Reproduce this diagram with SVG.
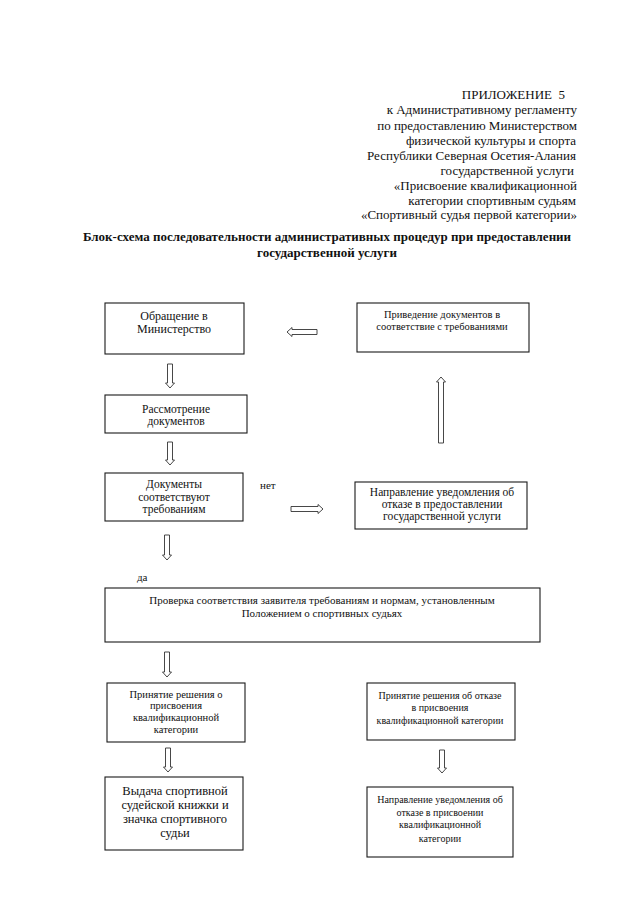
<svg xmlns="http://www.w3.org/2000/svg" width="640" height="905" viewBox="0 0 640 905">
<style>
  text { font-family: "Liberation Serif", "Times New Roman", serif; fill: #111; }
  .hdr { font-size: 13px; text-anchor: end; }
  .ttl { font-size: 13px; font-weight: bold; text-anchor: middle; }
  .box { fill: #fff; stroke: #1a1a1a; stroke-width: 1.1; }
  .t { text-anchor: middle; }
  .arr { fill: #fff; stroke: #333; stroke-width: 0.9; }
  .lbl { font-size: 11px; }
</style>
<rect width="640" height="905" fill="#fff"/>

<g id="header">
  <text class="hdr" x="565" y="99" xml:space="preserve">ПРИЛОЖЕНИЕ  5</text>
  <text class="hdr" x="577" y="114">к Административному регламенту</text>
  <text class="hdr" x="577" y="130">по предоставлению Министерством</text>
  <text class="hdr" x="576" y="145">физической культуры и спорта</text>
  <text class="hdr" x="576" y="160">Республики Северная Осетия-Алания</text>
  <text class="hdr" x="574" y="175">государственной услуги</text>
  <text class="hdr" x="577" y="190">«Присвоение квалификационной</text>
  <text class="hdr" x="576" y="205">категории спортивным судьям</text>
  <text class="hdr" x="577" y="219">«Спортивный судья первой категории»</text>
</g>

<g id="title">
  <text class="ttl" x="327" y="241">Блок-схема последовательности административных процедур при предоставлении</text>
  <text class="ttl" x="327" y="257">государственной услуги</text>
</g>

<g id="n1">
  <rect class="box" x="105" y="303" width="139" height="51"/>
  <text class="t" x="174" y="320" font-size="12">Обращение в</text>
  <text class="t" x="174" y="333" font-size="12">Министерство</text>
</g>
<g id="n2">
  <rect class="box" x="357" y="303" width="172" height="49"/>
  <text class="t" x="442" y="318" font-size="10.5">Приведение документов в</text>
  <text class="t" x="442" y="330" font-size="10.5">соответствие с требованиями</text>
</g>
<g id="n3">
  <rect class="box" x="105" y="395" width="142" height="38"/>
  <text class="t" x="176" y="413" font-size="11.5">Рассмотрение</text>
  <text class="t" x="176" y="425" font-size="11.5">документов</text>
</g>
<g id="n4">
  <rect class="box" x="105" y="473" width="138" height="48"/>
  <text class="t" x="174" y="488" font-size="11.5">Документы</text>
  <text class="t" x="174" y="501" font-size="11.5">соответствуют</text>
  <text class="t" x="174" y="513" font-size="11.5">требованиям</text>
</g>
<g id="n5">
  <rect class="box" x="355" y="482" width="172" height="47"/>
  <text class="t" x="442" y="496" font-size="11.5">Направление уведомления об</text>
  <text class="t" x="442" y="508" font-size="11.5">отказе в предоставлении</text>
  <text class="t" x="442" y="520" font-size="11.5">государственной услуги</text>
</g>
<g id="n6">
  <rect class="box" x="105" y="588" width="435" height="54"/>
  <text class="t" x="322" y="604" font-size="11">Проверка соответствия заявителя требованиям и нормам, установленным</text>
  <text class="t" x="322" y="617" font-size="11">Положением о спортивных судьях</text>
</g>
<g id="n7">
  <rect class="box" x="107" y="683" width="138" height="59"/>
  <text class="t" x="176" y="698" font-size="10.5">Принятие решения о</text>
  <text class="t" x="176" y="709" font-size="10.5">присвоения</text>
  <text class="t" x="176" y="721" font-size="10.5">квалификационной</text>
  <text class="t" x="176" y="733" font-size="10.5">категории</text>
</g>
<g id="n8">
  <rect class="box" x="105" y="777" width="138" height="73"/>
  <text class="t" x="175" y="795" font-size="12.5">Выдача спортивной</text>
  <text class="t" x="175" y="809" font-size="12.5">судейской книжки и</text>
  <text class="t" x="175" y="823" font-size="12.5">значка спортивного</text>
  <text class="t" x="175" y="837" font-size="12.5">судьи</text>
</g>
<g id="n9">
  <rect class="box" x="367" y="683" width="148" height="57"/>
  <text class="t" x="440" y="699" font-size="10">Принятие решения об отказе</text>
  <text class="t" x="440" y="711" font-size="10">в присвоения</text>
  <text class="t" x="440" y="724" font-size="10">квалификационной категории</text>
</g>
<g id="n10">
  <rect class="box" x="367" y="787" width="146" height="70"/>
  <text class="t" x="440" y="803" font-size="10">Направление уведомления об</text>
  <text class="t" x="440" y="816" font-size="10">отказе в присвоении</text>
  <text class="t" x="440" y="828" font-size="10">квалификационной</text>
  <text class="t" x="440" y="842" font-size="10">категории</text>
</g>

<g id="connectors">
  <!-- down arrows -->
  <path class="arr" d="M167.5,364 H172.5 V383 H174.5 L170,388 L165.5,383 H167.5 Z"/>
  <path class="arr" d="M167.5,442 H172.5 V460 H174.5 L170,465 L165.5,460 H167.5 Z"/>
  <path class="arr" d="M164.5,535 H169.5 V555 H171.5 L167,560 L162.5,555 H164.5 Z"/>
  <path class="arr" d="M164.5,652 H169.5 V672 H171.5 L167,677 L162.5,672 H164.5 Z"/>
  <path class="arr" d="M165.5,748 H170.5 V767 H172.5 L168,772 L163.5,767 H165.5 Z"/>
  <path class="arr" d="M439.5,750 H444.5 V768 H446.5 L442,773 L437.5,768 H439.5 Z"/>
  <!-- up arrow -->
  <path class="arr" d="M438.5,443 H443.5 V382 H445.5 L441,377 L436.5,382 H438.5 Z"/>
  <!-- left arrow -->
  <path class="arr" d="M317,329.5 V334.5 H292 V336.5 L287,332 L292,327.5 V329.5 Z"/>
  <!-- right arrow -->
  <path class="arr" d="M291,506.5 V511.5 H318 V513.5 L323,509 L318,504.5 V506.5 Z"/>
  <text class="lbl" x="260" y="489">нет</text>
  <text class="lbl" x="137" y="581">да</text>
</g>
</svg>
